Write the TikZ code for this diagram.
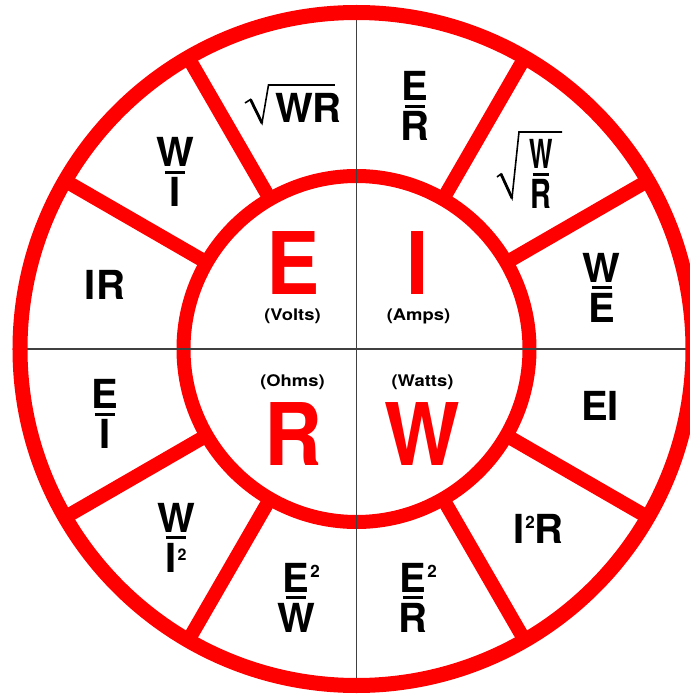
\documentclass[tikz,border=0pt]{standalone}
\usepackage{fontspec}
\setmainfont{TeX Gyre Heros}
\usepackage{graphicx}
\definecolor{ohmred}{RGB}{255,0,0}
\newcommand\fr[3][20pt]{\vbox{\offinterlineskip\halign{\hfil##\hfil\cr #2\cr\noalign{\kern4pt}\rule{#1}{3pt}\cr\noalign{\kern4pt}#3\cr}}}
\newcommand\supE{\rlap{\kern1pt\raisebox{15pt}{\fontsize{17}{17}\selectfont 2}}}
\newcommand\supI{\kern1pt\raisebox{15pt}{\fontsize{17}{17}\selectfont 2}}
\newcommand\supLow{\kern1pt\raisebox{12pt}{\fontsize{16}{16}\selectfont 2}}
\newcommand\wideunit[1]{\scalebox{1.15}[1]{#1}}
\tikzset{
  x=1pt, y=1pt,
  ring/.style={draw=ohmred, line width=14pt},
  spoke/.style={draw=ohmred, line width=14pt},
  axisline/.style={draw=black!75, line width=1.5pt},
  lbl/.style={inner sep=0pt, font=\fontsize{40}{40}\selectfont\bfseries},
  big/.style={inner sep=0pt, text=ohmred, font=\fontsize{80}{80}\selectfont\bfseries},
  unitlbl/.style={inner sep=0pt, font=\fontsize{16}{16}\selectfont\bfseries},
  radical/.style={line width=1.6pt, line join=miter},
  radstem/.style={line width=2.8pt},
}
\begin{document}
\begin{tikzpicture}
\useasboundingbox[fill=white] (-356.5,-345) rectangle (332.5,349);
\coordinate (c) at (0,0);
% inner ring and spokes
\draw[ring] (c) circle[radius=173pt];
\foreach \a in {30,60,120,150,210,240,300,330}
  \draw[spoke] (c) ++(\a:173pt) -- ++(\a:164pt);
% thin axis lines
\coordinate (top) at (90:330pt);
\coordinate (bot) at (270:330pt);
\coordinate (lft) at (180:330pt);
\coordinate (rgt) at (0:330pt);
\draw[axisline] (top) -- (bot);
\draw[axisline] (lft) -- (rgt);
% outer ring
\draw[ring, line width=15pt] (c) circle[radius=336.5pt];

% centre letters
\node[big, anchor=base] (bigE) at (-63,55) {\scalebox{1}[1.08]{E}};
\node[big, anchor=base] (bigI) at (61,55) {\scalebox{1}[1.08]{I}};
\node[big, anchor=base] (bigR) at (-63.5,-116) {\scalebox{1}[1.08]{R}};
\node[big, anchor=base] (bigW) at (66,-116) {\scalebox{1}[1.08]{W}};
\node[unitlbl] (volts) at (-64,32.5) {\wideunit{(Volts)}};
\node[unitlbl] (amps) at (62,32.5) {\wideunit{(Amps)}};
\node[unitlbl] (ohms) at (-64,-33.5) {\wideunit{(Ohms)}};
\node[unitlbl] (watts) at (66,-33.5) {\wideunit{(Watts)}};

% sector labels
\node[lbl, anchor=base west] (wr) at (-81.5,226) {WR};
\draw[radical, shift={(wr.base west)}] (-30,20) -- (-24.5,23.5) -- (-13,0) -- (-6.5,38) -- (60,38);
\draw[radstem, shift={(wr.base west)}] (-24.5,23.5) -- (-13,0);

\node[lbl] (er) at (58.5,243) {\fr{E}{R}};

\node[lbl] (wrfrac) at (184.5,175) {\fr[17pt]{\scalebox{0.62}[1]{W}}{\scalebox{0.72}[1]{R}}};
\draw[radical, shift={(wrfrac.center)}] (-44,-3) -- (-40,0) -- (-29,-24) -- (-22,42) -- (21,42);
\draw[radstem, shift={(wrfrac.center)}] (-40,0) -- (-29,-24);

\node[lbl] (we) at (245,61.5) {\fr{W}{E}};
\node[lbl] (ei) at (243.5,-57) {EI};
\node[lbl] (iir) at (182,-180) {I\supI R};
\node[lbl] (eer) at (56.5,-248.5) {\fr{E\supE}{R}};
\node[lbl] (eew) at (-60.5,-248.5) {\fr{E\supE}{W}};
\node[lbl] (wii) at (-180.5,-188.5) {\fr{W}{I\supLow}};
\node[lbl] (ei2) at (-251.5,-65) {\fr{E}{I}};
\node[lbl] (ir) at (-251.5,64) {IR};
\node[lbl] (wi) at (-181.5,177) {\fr{W}{I}};
\end{tikzpicture}
\end{document}
